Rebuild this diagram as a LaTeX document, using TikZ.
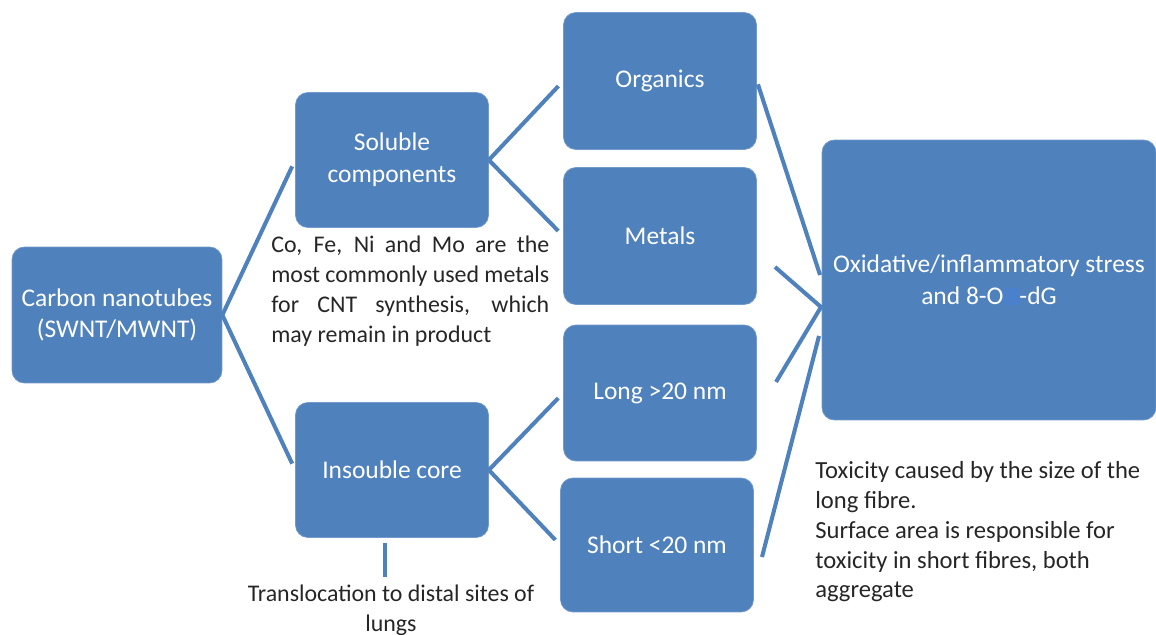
\documentclass[tikz,border=0pt]{standalone}
\usepackage{fontspec}
\setmainfont{Carlito}
\definecolor{boxblue}{RGB}{79,129,189}
\definecolor{patchblue}{RGB}{74,128,204}
\definecolor{notegray}{RGB}{38,38,38}

\begin{document}
\begin{tikzpicture}[x=0.02cm,y=-0.02cm,
		blk/.style={draw=boxblue!80!white,fill=boxblue,rounded corners=7pt,text=white,align=center,
			inner sep=0pt,font=\fontsize{14.5}{18}\selectfont},
		link/.style={draw=boxblue,line width=2.3pt},
		note/.style={text=notegray,inner sep=0pt,font=\fontsize{13.6}{17}\selectfont}]
	\useasboundingbox (0,0) rectangle (1156,635);
	% boxes
	\node[blk,minimum width=4.2cm,minimum height=2.72cm] (cnt) at (117,315) {Carbon nanotubes\\(SWNT/MWNT)};
	\node[blk,minimum width=3.86cm,minimum height=2.7cm] (sol) at (392,160) {Soluble\\components};
	\node[blk,minimum width=3.86cm,minimum height=2.7cm] (ins) at (392,470) {Insouble core};
	\node[blk,minimum width=3.86cm,minimum height=2.74cm] (org) at (660,81) {Organics};
	\node[blk,minimum width=3.86cm,minimum height=2.74cm] (met) at (660,236) {Metals};
	\node[blk,minimum width=3.86cm,minimum height=2.72cm] (long) at (660,393) {Long >20 nm};
	\node[blk,minimum width=3.86cm,minimum height=2.68cm] (short) at (657,545) {Short <20 nm};
	\node[blk,minimum width=6.68cm,minimum height=5.6cm] (ox) at (989,280)
		{Oxidative/inflammatory stress\\and 8-O{\fboxsep=0pt\colorbox{patchblue}{\phantom{H}}}-dG};
	% notes
	\node[note,anchor=north west,align=left] (metnote) at (271,236)
		{\makebox[5.56cm][s]{Co, Fe, Ni and Mo are the}\\
		 \makebox[5.56cm][s]{most commonly used metals}\\
		 \makebox[5.56cm][s]{for CNT synthesis, which}\\
		 may remain in product};
	\node[note,anchor=north,align=center] (trans) at (391,585) {Translocation to distal sites of\\lungs};
	\node[note,anchor=north west,align=left,font=\fontsize{14}{17}\selectfont] (tox) at (815,461)
		{Toxicity caused by the size of the\\long fibre.\\Surface area is responsible for\\toxicity in short fibres, both\\aggregate};
	% free ends
	\coordinate (join) at (821,307);
	\coordinate (m1) at (775,267);
	\coordinate (l1) at (776,382);
	\coordinate (s1) at (762,557);
	\coordinate (s2) at (819,336);
	\coordinate (t1) at (385,543);
	\coordinate (t2) at (385,577);
	% connectors
	\draw[link,shorten >=4pt] (cnt.east) -- (sol.west);
	\draw[link,shorten >=4pt] (cnt.east) -- (ins.west);
	\draw[link,shorten >=4pt] (sol.east) -- (org.west);
	\draw[link,shorten >=4pt] (sol.east) -- (met.west);
	\draw[link,shorten >=4pt] (ins.east) -- (long.west);
	\draw[link,shorten >=4pt] (ins.east) -- (short.west);
	\draw[link,shorten <=2pt,shorten >=3pt] (org.east) -- (ox.west);
	\draw[link] (m1) -- (join) -- (l1);
	\draw[link] (s1) -- (s2);
	\draw[link] (t1) -- (t2);
\end{tikzpicture}
\end{document}
